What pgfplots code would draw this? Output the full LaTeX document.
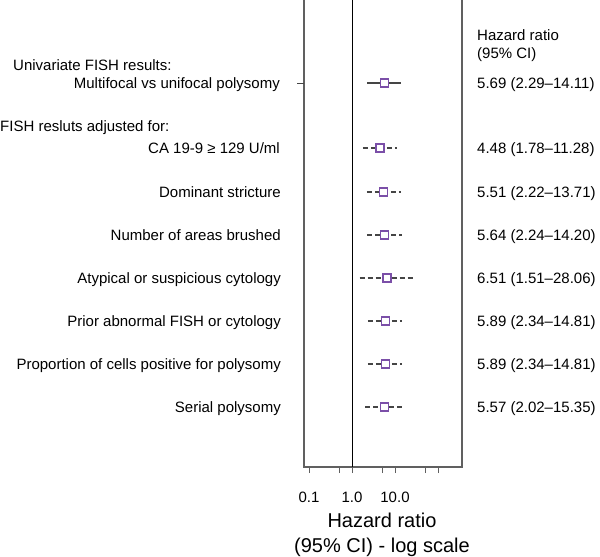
\documentclass[border=0pt]{standalone}
\usepackage{fontspec}
\setmainfont{Liberation Sans}
\usepackage{pgfplots}
\pgfplotsset{compat=1.18}
\definecolor{mk}{HTML}{7B4FA8}
\definecolor{ln}{HTML}{454545}
\definecolor{bx}{HTML}{606060}
\begin{document}
\begin{tikzpicture}[x=1pt,y=1pt]
\useasboundingbox (0,0) rectangle (600,-557);
\begin{axis}[
  at={(304pt,-467pt)}, anchor=south west,
  scale only axis, width=158pt, height=472pt,
  xmode=log, xmin=0.0765, xmax=361.6,
  ymin=-467, ymax=5,
  ytick=\empty,
  xtick={0.1,0.5,1,5,10,50,100},
  xticklabels={0.1,,1.0,,10.0,,},
  xminorticks=false,
  tick align=outside, xtick pos=bottom,
  major tick length=6pt,
  axis line style={bx, line width=1.2pt},
  tick style={bx, line width=1pt},
  xticklabel style={font=\fontsize{15}{18}\selectfont, anchor=north, inner sep=0pt, yshift=-19pt},
]
\addplot[black, line width=1pt] coordinates {(1,-467) (1,5)};
\addplot[ln, line width=1.2pt] coordinates {(2.29,-83) (14.11,-83)};
\addplot[ln, line width=1.1pt, dash pattern=on 5pt off 3pt] coordinates {(1.78,-148) (11.28,-148)};
\addplot[ln, line width=1.1pt, dash pattern=on 5pt off 3pt] coordinates {(2.22,-192) (13.71,-192)};
\addplot[ln, line width=1.1pt, dash pattern=on 5pt off 3pt] coordinates {(2.24,-235) (14.20,-235)};
\addplot[ln, line width=1.1pt, dash pattern=on 5pt off 3pt] coordinates {(1.51,-278) (28.06,-278)};
\addplot[ln, line width=1.1pt, dash pattern=on 5pt off 3pt] coordinates {(2.34,-321) (14.81,-321)};
\addplot[ln, line width=1.1pt, dash pattern=on 5pt off 3pt] coordinates {(2.34,-364) (14.81,-364)};
\addplot[ln, line width=1.1pt, dash pattern=on 5pt off 3pt] coordinates {(2.02,-407) (15.35,-407)};
\addplot[only marks, mark=square*, mark size=4pt, mark options={draw=mk, fill=white, line width=1.1pt}] coordinates {
  (5.69,-83) (4.48,-148) (5.51,-192) (5.64,-235) (6.51,-278) (5.89,-321) (5.89,-364) (5.57,-407)};
\end{axis}
\draw[ln, line width=1pt] (297,-83) -- (304,-83);
\begin{scope}[every node/.style={inner sep=0pt, font=\fontsize{15}{18}\selectfont}]
\node[anchor=base west] at (13,-70) {Univariate FISH results:};
\node[anchor=base east] at (280,-88) {Multifocal vs unifocal polysomy};
\node[anchor=base west] at (0,-131) {FISH resluts adjusted for:};
\node[anchor=base east] at (280,-153) {CA 19-9 ≥ 129 U/ml};
\node[anchor=base east] at (281,-197) {Dominant stricture};
\node[anchor=base east] at (281,-240) {Number of areas brushed};
\node[anchor=base east] at (281,-283) {Atypical or suspicious cytology};
\node[anchor=base east] at (281,-326) {Prior abnormal FISH or cytology};
\node[anchor=base east] at (281,-369) {Proportion of cells positive for polysomy};
\node[anchor=base east] at (281,-412) {Serial polysomy};
\node[anchor=base west] at (477,-40) {Hazard ratio};
\node[anchor=base west] at (477,-58) {(95\% CI)};
\node[anchor=base west] at (477,-88) {5.69 (2.29–14.11)};
\node[anchor=base west] at (477,-153) {4.48 (1.78–11.28)};
\node[anchor=base west] at (477,-197) {5.51 (2.22–13.71)};
\node[anchor=base west] at (477,-240) {5.64 (2.24–14.20)};
\node[anchor=base west] at (477,-283) {6.51 (1.51–28.06)};
\node[anchor=base west] at (477,-326) {5.89 (2.34–14.81)};
\node[anchor=base west] at (477,-369) {5.89 (2.34–14.81)};
\node[anchor=base west] at (477,-412) {5.57 (2.02–15.35)};
\end{scope}
\node[anchor=base, inner sep=0pt, font=\fontsize{20}{24}\selectfont] at (382,-527) {Hazard ratio};
\node[anchor=base, inner sep=0pt, font=\fontsize{20}{24}\selectfont] at (382,-552) {(95\% CI) - log scale};
\end{tikzpicture}
\end{document}
